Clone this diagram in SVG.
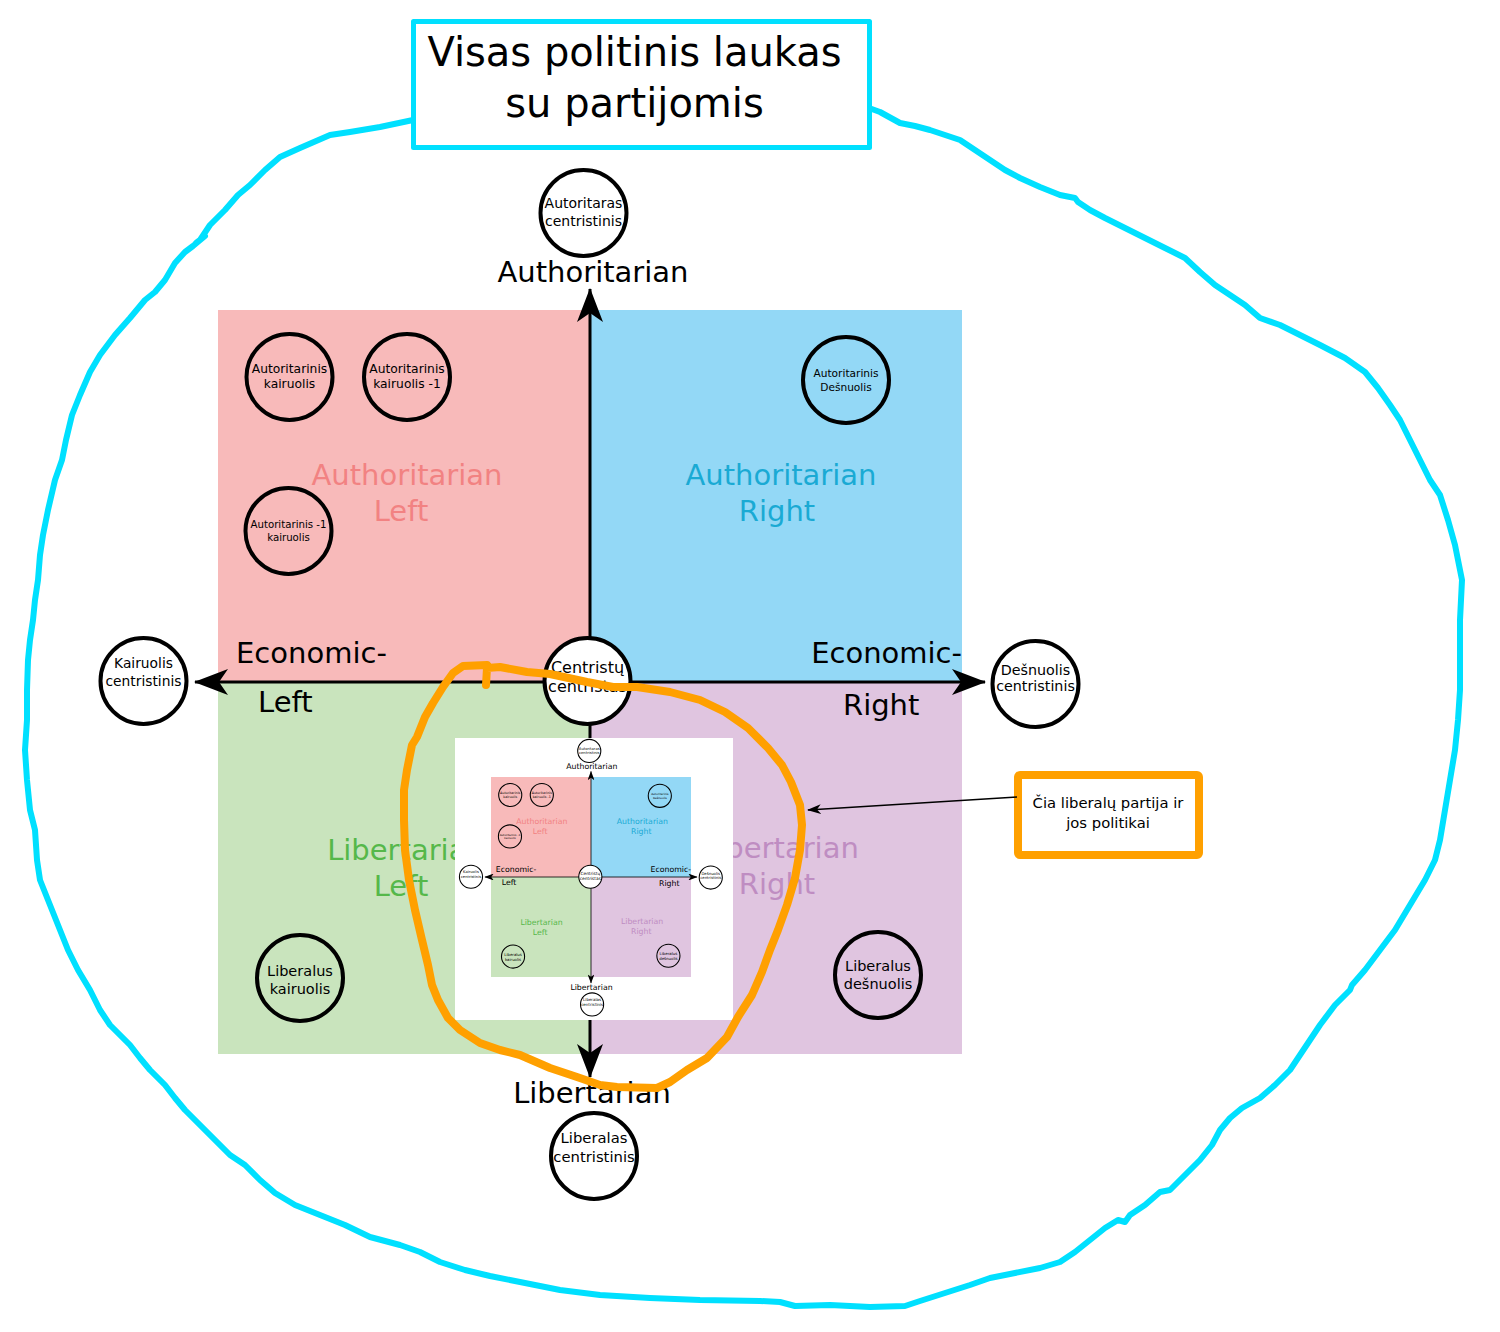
<svg xmlns="http://www.w3.org/2000/svg" width="1500" height="1332" viewBox="0 0 1500 1332">
<defs>
<style>
text{font-family:"DejaVu Sans","Liberation Sans",sans-serif;fill:#000}
.c{text-anchor:middle}
.lab{font-size:29px}
.node circle{fill:none;stroke:#000;stroke-width:4}
.node.w circle{fill:#fff}
.ax{fill:none;stroke:#000;stroke-width:3}
.al{fill:#f28282}.ar{fill:#1aaad4}.ll{fill:#55b84a}.lr{fill:#bf8dc2}
</style>
<marker id="ah" viewBox="0 0 34 26" markerWidth="34" markerHeight="26" refX="33" refY="13" orient="auto-start-reverse" markerUnits="userSpaceOnUse"><path d="M0,0 L34,13 L0,26 L9,13 Z" fill="#000"/></marker>
<marker id="sh" viewBox="0 0 14 10" markerWidth="14" markerHeight="10" refX="13" refY="5" orient="auto" markerUnits="userSpaceOnUse"><path d="M0,0 L14,5 L0,10 L4,5 Z" fill="#000"/></marker>
</defs>
<rect width="1500" height="1332" fill="#fff"/>

<g id="chart">
<g id="quadrants">
<rect x="218" y="310" width="372" height="372" fill="#f8baba"/>
<rect x="590" y="310" width="372" height="372" fill="#93d8f6"/>
<rect x="218" y="682" width="372" height="372" fill="#c9e4bd"/>
<rect x="590" y="682" width="372" height="372" fill="#e0c5e0"/>
</g>
<g id="quadrant-labels" class="lab">
<text class="c al" x="407" y="485">Authoritarian</text><text class="c al" x="401" y="521">Left</text>
<text class="c ar" x="781" y="485">Authoritarian</text><text class="c ar" x="777" y="521">Right</text>
<text class="c ll" x="406" y="860">Libertarian</text><text class="c ll" x="401" y="896">Left</text>
<text class="c lr" x="780" y="858">Libertarian</text><text class="c lr" x="777" y="894">Right</text>
</g>
<g id="axis-labels" class="lab">
<text class="c" x="593" y="282">Authoritarian</text>
<text class="c" x="592" y="1103">Libertarian</text>
<text x="236" y="663">Economic-</text>
<text x="258" y="712">Left</text>
<text x="962" y="663" text-anchor="end">Economic-</text>
<text x="843" y="715">Right</text>
</g>
<g id="axes">
<path class="ax" d="M590,1077 L590,289" marker-start="url(#ah)" marker-end="url(#ah)"/>
<path class="ax" d="M195,682 L985,682" marker-start="url(#ah)" marker-end="url(#ah)"/>
</g>
<g id="n-autoritaras" class="node w"><circle cx="583.5" cy="213" r="43"/><text class="c" font-size="14" x="583.5" y="208">Autoritaras</text><text class="c" font-size="14" x="583.5" y="226">centristinis</text></g>
<g id="n-aut-kair" class="node"><circle cx="289.5" cy="377" r="43"/><text class="c" font-size="12.3" x="289.5" y="373">Autoritarinis</text><text class="c" font-size="12.3" x="289.5" y="388">kairuolis</text></g>
<g id="n-aut-kair-1" class="node"><circle cx="407" cy="377" r="43"/><text class="c" font-size="12.3" x="407" y="373">Autoritarinis</text><text class="c" font-size="12.3" x="407" y="388">kairuolis -1</text></g>
<g id="n-aut-1-kair" class="node"><circle cx="288.5" cy="531" r="43"/><text class="c" font-size="10.2" x="288.5" y="528">Autoritarinis -1</text><text class="c" font-size="10.2" x="288.5" y="541">kairuolis</text></g>
<g id="n-aut-desn" class="node"><circle cx="846" cy="380" r="43"/><text class="c" font-size="10.6" x="846" y="377">Autoritarinis</text><text class="c" font-size="10.6" x="846" y="391">Dešnuolis</text></g>
<g id="n-kair-centr" class="node w"><circle cx="143.5" cy="681" r="43"/><text class="c" font-size="13.8" x="143.5" y="668">Kairuolis</text><text class="c" font-size="13.8" x="143.5" y="686">centristinis</text></g>
<g id="n-centristu" class="node w"><circle cx="587.5" cy="681" r="43"/><text class="c" font-size="16" x="587.5" y="673">Centristų</text><text class="c" font-size="16" x="587.5" y="692">centristas</text></g>
<g id="n-desn-centr" class="node w"><circle cx="1035.5" cy="684" r="43"/><text class="c" font-size="14.3" x="1035.5" y="675">Dešnuolis</text><text class="c" font-size="14.3" x="1035.5" y="691">centristinis</text></g>
<g id="n-lib-kair" class="node"><circle cx="300" cy="978" r="43"/><text class="c" font-size="14.5" x="300" y="976">Liberalus</text><text class="c" font-size="14.5" x="300" y="994">kairuolis</text></g>
<g id="n-lib-desn" class="node"><circle cx="878" cy="975" r="43"/><text class="c" font-size="14.5" x="878" y="971">Liberalus</text><text class="c" font-size="14.5" x="878" y="989">dešnuolis</text></g>
<g id="n-lib-centr" class="node w"><circle cx="594" cy="1156" r="43"/><text class="c" font-size="14.8" x="594" y="1143">Liberalas</text><text class="c" font-size="14.8" x="594" y="1162">centristinis</text></g>
</g>

<g id="inset">
<rect x="455" y="738" width="278" height="282" fill="#fff"/>
<g id="inset-chart" transform="translate(591 877) scale(0.2688) translate(-590 -682)">
<g id="in-quadrants">
<rect x="218" y="310" width="372" height="372" fill="#f8baba"/>
<rect x="590" y="310" width="372" height="372" fill="#93d8f6"/>
<rect x="218" y="682" width="372" height="372" fill="#c9e4bd"/>
<rect x="590" y="682" width="372" height="372" fill="#e0c5e0"/>
</g>
<g id="in-quadrant-labels" class="lab">
<text class="c al" x="407" y="485">Authoritarian</text><text class="c al" x="401" y="521">Left</text>
<text class="c ar" x="781" y="485">Authoritarian</text><text class="c ar" x="777" y="521">Right</text>
<text class="c ll" x="406" y="860">Libertarian</text><text class="c ll" x="401" y="896">Left</text>
<text class="c lr" x="780" y="858">Libertarian</text><text class="c lr" x="777" y="894">Right</text>
</g>
<g id="in-axis-labels" class="lab">
<text class="c" x="593" y="282">Authoritarian</text>
<text class="c" x="592" y="1103">Libertarian</text>
<text x="236" y="663">Economic-</text>
<text x="258" y="712">Left</text>
<text x="962" y="663" text-anchor="end">Economic-</text>
<text x="843" y="715">Right</text>
</g>
<g id="in-axes">
<path class="ax" d="M590,1077 L590,289" marker-start="url(#ah)" marker-end="url(#ah)"/>
<path class="ax" d="M195,682 L985,682" marker-start="url(#ah)" marker-end="url(#ah)"/>
</g>
<g id="in-n-autoritaras" class="node w"><circle cx="583.5" cy="213" r="43"/><text class="c" font-size="14" x="583.5" y="208">Autoritaras</text><text class="c" font-size="14" x="583.5" y="226">centristinis</text></g>
<g id="in-n-aut-kair" class="node"><circle cx="289.5" cy="377" r="43"/><text class="c" font-size="12.3" x="289.5" y="373">Autoritarinis</text><text class="c" font-size="12.3" x="289.5" y="388">kairuolis</text></g>
<g id="in-n-aut-kair-1" class="node"><circle cx="407" cy="377" r="43"/><text class="c" font-size="12.3" x="407" y="373">Autoritarinis</text><text class="c" font-size="12.3" x="407" y="388">kairuolis -1</text></g>
<g id="in-n-aut-1-kair" class="node"><circle cx="288.5" cy="531" r="43"/><text class="c" font-size="10.2" x="288.5" y="528">Autoritarinis -1</text><text class="c" font-size="10.2" x="288.5" y="541">kairuolis</text></g>
<g id="in-n-aut-desn" class="node"><circle cx="846" cy="380" r="43"/><text class="c" font-size="10.6" x="846" y="377">Autoritarinis</text><text class="c" font-size="10.6" x="846" y="391">Dešnuolis</text></g>
<g id="in-n-kair-centr" class="node w"><circle cx="143.5" cy="681" r="43"/><text class="c" font-size="13.8" x="143.5" y="668">Kairuolis</text><text class="c" font-size="13.8" x="143.5" y="686">centristinis</text></g>
<g id="in-n-centristu" class="node w"><circle cx="587.5" cy="681" r="43"/><text class="c" font-size="16" x="587.5" y="673">Centristų</text><text class="c" font-size="16" x="587.5" y="692">centristas</text></g>
<g id="in-n-desn-centr" class="node w"><circle cx="1035.5" cy="684" r="43"/><text class="c" font-size="14.3" x="1035.5" y="675">Dešnuolis</text><text class="c" font-size="14.3" x="1035.5" y="691">centristinis</text></g>
<g id="in-n-lib-kair" class="node"><circle cx="300" cy="978" r="43"/><text class="c" font-size="14.5" x="300" y="976">Liberalus</text><text class="c" font-size="14.5" x="300" y="994">kairuolis</text></g>
<g id="in-n-lib-desn" class="node"><circle cx="878" cy="975" r="43"/><text class="c" font-size="14.5" x="878" y="971">Liberalus</text><text class="c" font-size="14.5" x="878" y="989">dešnuolis</text></g>
<g id="in-n-lib-centr" class="node w"><circle cx="594" cy="1156" r="43"/><text class="c" font-size="14.8" x="594" y="1143">Liberalas</text><text class="c" font-size="14.8" x="594" y="1162">centristinis</text></g>
</g>
</g>

<g id="loops" fill="none" stroke-linejoin="round" stroke-linecap="round">
<path id="cyan-loop" stroke="#00e0ff" stroke-width="6" d="M413,120 L380,127 L350,132 L330,135 L300,148 L280,157 L265,170 L250,185 L238,195 L225,210 L210,225 L200,240 L196,243 L205,236 L193,246 L185,252 L175,263 L165,280 L155,292 L145,300 L130,318 L115,335 L100,355 L90,372 L80,395 L72,415 L66,440 L62,460 L55,480 L48,510 L43,535 L40,555 L38,580 L35,600 L33,620 L30,640 L28,660 L27,690 L27,720 L25,750 L27,780 L30,810 L35,830 L37,860 L40,880 L48,900 L58,925 L68,950 L78,970 L90,990 L100,1010 L110,1025 L120,1035 L130,1045 L140,1058 L150,1070 L165,1085 L175,1098 L185,1110 L200,1125 L215,1140 L230,1155 L245,1165 L260,1180 L275,1193 L295,1205 L320,1215 L345,1225 L370,1237 L400,1245 L420,1252 L440,1262 L465,1270 L490,1276 L520,1282 L560,1290 L600,1295 L650,1298 L700,1300 L760,1301 L780,1302 L795,1306 L830,1305 L870,1307 L905,1306 L920,1301 L945,1293 L970,1285 L990,1278 L1010,1274 L1040,1268 L1060,1262 L1075,1252 L1090,1240 L1105,1228 L1118,1220 L1125,1222 L1130,1215 L1145,1205 L1160,1192 L1170,1190 L1178,1182 L1190,1170 L1200,1160 L1212,1145 L1220,1130 L1230,1118 L1242,1108 L1260,1098 L1275,1085 L1290,1070 L1300,1055 L1310,1040 L1320,1025 L1335,1005 L1350,990 L1352,985 L1365,970 L1380,950 L1395,930 L1410,905 L1425,880 L1435,860 L1440,840 L1445,810 L1450,780 L1455,750 L1458,720 L1460,690 L1460,650 L1460,620 L1462,580 L1458,560 L1455,545 L1448,520 L1440,495 L1430,480 L1420,460 L1410,440 L1400,420 L1390,405 L1378,388 L1365,372 L1345,358 L1320,345 L1300,335 L1280,325 L1260,318 L1245,305 L1230,295 L1215,285 L1200,272 L1185,258 L1165,248 L1145,238 L1125,228 L1105,218 L1090,210 L1078,202 L1075,198 L1060,195 L1040,187 L1020,178 L1005,170 L990,160 L975,150 L960,140 L945,135 L930,130 L915,126 L900,123 L880,112 L869,108"/>
<path id="orange-loop" stroke="#ffa000" stroke-width="8" d="M486,685 L487,668 L500,667 L527,672 L550,674 L587,682 L613,687 L637,687 L670,692 L700,700 L725,712 L748,728 L768,748 L782,765 L791,782 L800,805 L802,825 L800,850 L795,878 L787,905 L778,930 L770,950 L762,972 L752,995 L738,1017 L727,1037 L707,1058 L687,1070 L670,1082 L657,1088 L617,1087 L600,1085 L577,1077 L550,1068 L520,1055 L500,1050 L480,1043 L460,1030 L448,1018 L438,1000 L432,985 L428,965 L422,940 L415,910 L409,880 L405,850 L404,820 L404,790 L407,770 L412,745 L417,737 L425,717 L433,703 L443,687 L453,673 L463,666 L487,665"/>
</g>

<g id="title" class="node">
<rect x="413.5" y="21.5" width="456" height="126" fill="#fff" stroke="#00e0ff" stroke-width="5" stroke-linejoin="round"/>
<text class="c" font-size="40" x="634.5" y="66">Visas politinis laukas</text>
<text class="c" font-size="40" x="634.5" y="117">su partijomis</text>
</g>

<g id="annotation" class="node">
<rect x="1018" y="775" width="181" height="80" rx="2" fill="#fff" stroke="#ffa000" stroke-width="8"/>
<text class="c" font-size="14.8" x="1108" y="808">Čia liberalų partija ir</text>
<text class="c" font-size="14.8" x="1108" y="828">jos politikai</text>
</g>

<g id="connectors">
<path d="M1017,797 L808,810" fill="none" stroke="#000" stroke-width="1.4" marker-end="url(#sh)"/>
</g>
</svg>
